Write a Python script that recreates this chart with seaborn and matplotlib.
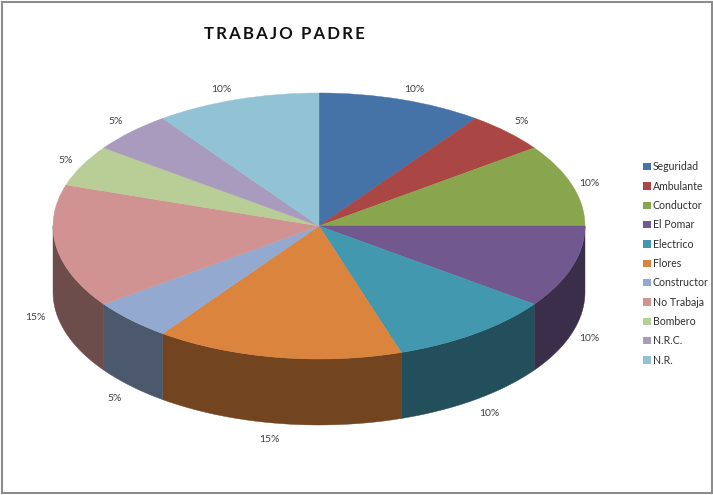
import matplotlib
matplotlib.use("Agg")
import matplotlib.pyplot as plt
import numpy as np
import seaborn as sns
from matplotlib.patches import Patch, Rectangle

categories = ["Seguridad", "Ambulante", "Conductor", "El Pomar", "Electrico", "Flores",
              "Constructor", "No Trabaja", "Bombero", "N.R.C.", "N.R."]
values = [10, 5, 10, 10, 10, 15, 5, 15, 5, 5, 10]
top_colors = ["#4572A7", "#AA4643", "#89A54E", "#71588F", "#4198AF", "#DB843D",
              "#93A9CF", "#D19392", "#B9CD96", "#A99BBD", "#92C3D4"]
title = "T\u2009R\u2009A\u2009B\u2009A\u2009J\u2009O  P\u2009A\u2009D\u2009R\u2009E"

sns.set_theme(style="white")
plt.rcParams["font.family"] = ["Lato", "DejaVu Sans"]

W, H = 713, 495
CX, CY = 319, 226
RX, RY = 266, 133
DEPTH = 66 / RY

fig = plt.figure(figsize=(W / 100, H / 100), dpi=100)
ax = fig.add_axes([0, 0, 1, 1])
palette = sns.color_palette(top_colors)

# top of the pie
wedges, _ = ax.pie(values, colors=palette, startangle=90, counterclock=False, radius=1,
                   wedgeprops={"linewidth": 0.3, "zorder": 3})
for w in wedges:
    w.set_edgecolor(w.get_facecolor())
ax.set_aspect("auto")
ax.set_xlim(-CX / RX, (W - CX) / RX)
ax.set_ylim(-(H - CY) / RY, CY / RY)
ax.axis("off")

# side wall, only the front half shows
edges = np.cumsum([0] + values) / sum(values) * 360
for i in range(len(values)):
    a = max(edges[i], 90)
    b = min(edges[i + 1], 270)
    if a >= b:
        continue
    t = np.radians(np.linspace(a, b, 60))
    x = np.sin(t)
    y = np.cos(t)
    side = tuple(c * 0.52 for c in palette[i])
    ax.fill(np.r_[x, x[::-1]], np.r_[y, y[::-1] - DEPTH], color=side, lw=0.3, zorder=2)

# percent labels
label_kx = [1.155, 1.075, 1.07, 1.07, 1.09, 1.2, 1.085, 1.08, 1.07, 1.08, 1.19]
label_ky = [1.09, 1.13, 1.07, 1.07, 1.1, 1.1, 1.1, 1.1, 1.11, 1.13, 1.09]
mids = (edges[:-1] + edges[1:]) / 2
for i, m in enumerate(mids):
    t = np.radians(m)
    lx = label_kx[i] * np.sin(t)
    ly = label_ky[i] * np.cos(t) - 1.5 / RY
    if np.cos(t) < 0:
        ly -= DEPTH + 1.5 / RY
    ax.text(lx, ly, f"{values[i]}%", ha="center", va="center", fontsize=7.5, color="#404040")

ax.text((284 - CX) / RX, (CY - 34) / RY, title, ha="center", va="center",
        fontsize=12.1, fontweight="bold", color="#111111")

handles = [Patch(facecolor=c, edgecolor="none") for c in palette]
ax.legend(handles, categories, loc="center left", bbox_to_anchor=(643 / W, 1 - 263.5 / H),
          frameon=False, fontsize=7.6, labelspacing=0.79, handlelength=0.72, handleheight=0.72,
          handletextpad=0.2, borderpad=0, borderaxespad=0, labelcolor="#303030")

# chart frame
fig.add_artist(Rectangle((1.5 / W, 2.5 / H), (W - 3) / W, (H - 4) / H, transform=fig.transFigure,
                         fill=False, edgecolor="#8c8c8c", linewidth=1.5))

fig.savefig("out.png", dpi=100)
